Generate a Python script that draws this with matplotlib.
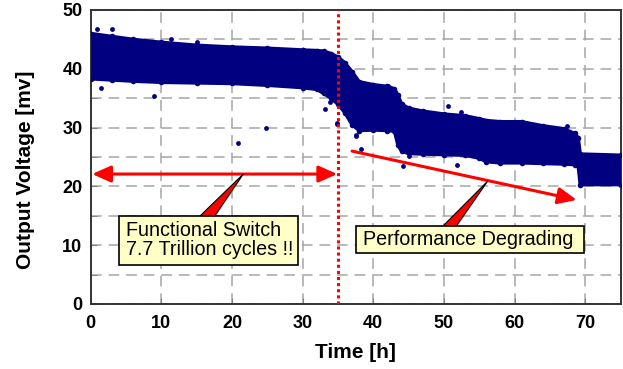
import matplotlib
matplotlib.use('Agg')
import matplotlib.pyplot as plt
from matplotlib.patches import Polygon, Rectangle

plt.rcParams['font.family'] = ['Liberation Sans', 'DejaVu Sans']

# ---- data ----
time_h = [0, 3, 6, 10, 15, 20, 25, 30, 32, 33, 34, 35, 36, 37, 38, 40, 42, 43,
          43.5, 44, 45, 47, 50, 53, 55, 56, 58, 61, 64, 67, 68.5, 69, 69.3, 75]
v_upper = [46.0, 45.5, 45.0, 44.5, 44.0, 43.7, 43.5, 43.2, 43.1, 43.0, 42.6, 42.0,
           41.0, 39.5, 37.8, 37.3, 37.0, 36.6, 35.5, 34.0, 33.3, 32.8, 32.3, 32.0,
           31.5, 31.2, 31.0, 31.0, 30.3, 29.8, 29.0, 28.3, 25.5, 25.3]
v_lower = [38.3, 38.1, 37.9, 37.7, 37.6, 37.5, 37.2, 36.8, 36.5, 35.8, 35.0, 34.0,
           32.5, 30.5, 29.5, 29.6, 29.5, 29.4, 27.0, 26.0, 25.6, 25.5, 25.4, 25.3,
           24.8, 24.2, 24.0, 24.0, 23.9, 23.8, 23.7, 23.6, 20.3, 20.3]

out_t = [0.85, 3.06, 11.3, 15.1, 24.8, 20.9, 9.0, 1.5, 33.2, 34.8, 37.5, 42.1,
         42.8, 38.2, 37.5, 44.2, 45.0, 51.8, 50.6, 52.4, 67.4, 68.1, 34.8, 33.9]
out_v = [46.7, 46.7, 45.0, 44.6, 29.9, 27.4, 35.4, 36.7, 33.1, 30.6, 28.7, 37.1,
         36.5, 26.3, 28.6, 23.5, 25.1, 23.6, 33.6, 32.7, 30.3, 29.1, 30.7, 34.4]

x_ticks = [0, 10, 20, 30, 40, 50, 60, 70]
y_ticks = [0, 10, 20, 30, 40, 50]
y_minor = [5, 15, 25, 35, 45]

event_t = 35
label_left = "Functional Switch\n7.7 Trillion cycles !!"
label_right = "Performance Degrading"

# ---- figure ----
fig = plt.figure(figsize=(6.23, 3.69), dpi=100)
ax = fig.add_axes([0.1456, 0.1762, 0.8504, 0.7967])
ax.set_xlim(0, 75)
ax.set_ylim(0, 50)

ax.set_xticks(x_ticks)
ax.set_yticks(y_ticks)
ax.set_yticks(y_minor, minor=True)
ax.set_axisbelow(True)
grid_kw = dict(color='#a6a6a6', lw=1.1, ls=(0, (7, 4.5)))
ax.grid(True, axis='x', which='major', **grid_kw)
ax.grid(True, axis='y', which='both', **grid_kw)
ax.tick_params(axis='both', which='both', direction='in', length=4,
               color='#808080', labelsize=13)
ax.tick_params(axis='x', pad=8)
ax.tick_params(axis='y', pad=6)
for lab in ax.get_xticklabels() + ax.get_yticklabels():
    lab.set_fontweight('bold')
for sp in ax.spines.values():
    sp.set_linewidth(1.4)
    sp.set_color('#333333')

navy = '#000080'
ax.fill_between(time_h, v_lower, v_upper, color=navy, lw=0, zorder=3)
ax.plot(time_h, v_upper, color=navy, lw=2.5, zorder=3,
        marker='o', ms=4, mew=0)
ax.plot(time_h, v_lower, color=navy, lw=2.5, zorder=3,
        marker='o', ms=4, mew=0)
ax.scatter(out_t, out_v, s=12, color=navy, lw=0, zorder=3)

ax.axvline(event_t, color='#ff0000', lw=2.2, ls=(0, (1, 1)), zorder=4)

# arrows
ax.annotate('', xy=(0.2, 22.1), xytext=(34.9, 22.1),
            arrowprops=dict(arrowstyle='<|-|>,head_length=0.45,head_width=0.2',
                            color='#ff0000', lw=2.2, mutation_scale=25,
                            shrinkA=0, shrinkB=0), zorder=5)
ax.annotate('', xy=(68.8, 17.7), xytext=(37.0, 26.0),
            arrowprops=dict(arrowstyle='-|>,head_length=0.45,head_width=0.2',
                            color='#ff0000', lw=2.2, mutation_scale=25,
                            shrinkA=0, shrinkB=0), zorder=5)

# callouts
box_fc = '#ffffc8'
ax.add_patch(Polygon([(15.5, 15.0), (17.6, 15.0), (21.6, 22.1)], closed=True,
                     fc='#ff0000', ec='black', lw=0.8, zorder=6))
ax.add_patch(Rectangle((4.0, 6.6), 25.3, 8.4, fc=box_fc, ec='black', lw=1.2,
                       zorder=7))
ax.text(5.0, 10.8, label_left, fontsize=14.2, ha='left', va='center',
        linespacing=1.0, zorder=8)

ax.add_patch(Polygon([(49.9, 13.3), (51.8, 13.3), (56.2, 20.9)], closed=True,
                     fc='#ff0000', ec='black', lw=0.8, zorder=6))
ax.add_patch(Rectangle((37.5, 8.7), 32.4, 4.6, fc=box_fc, ec='black', lw=1.2,
                       zorder=7))
ax.text(38.5, 11.0, label_right, fontsize=14.2, ha='left', va='center',
        zorder=8)

fig.text(26 / 623, 1 - 170 / 369, 'Output Voltage [mv]', rotation=90,
         ha='center', va='center', fontsize=15, fontweight='bold')
fig.text(355 / 623, 1 - 353 / 369, 'Time [h]', ha='center', va='center',
         fontsize=15, fontweight='bold')

fig.savefig('out.png', dpi=100)
